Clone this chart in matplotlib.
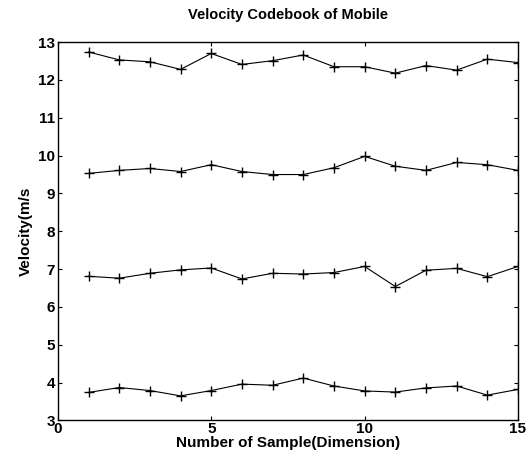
import matplotlib
matplotlib.use("Agg")
import matplotlib.pyplot as plt

# sample index (dimension)
samples = list(range(1, 16))

# four velocity codewords
v_high = [12.74, 12.53, 12.48, 12.28, 12.70, 12.41, 12.51, 12.66,
          12.35, 12.35, 12.18, 12.38, 12.26, 12.55, 12.46]
v_upper = [9.53, 9.61, 9.66, 9.58, 9.76, 9.58, 9.50, 9.50,
           9.68, 9.98, 9.72, 9.61, 9.82, 9.76, 9.61]
v_lower = [6.81, 6.76, 6.89, 6.98, 7.03, 6.74, 6.89, 6.87,
           6.91, 7.07, 6.54, 6.97, 7.02, 6.80, 7.07]
v_low = [3.74, 3.87, 3.79, 3.65, 3.79, 3.96, 3.93, 4.12,
         3.91, 3.78, 3.75, 3.86, 3.91, 3.67, 3.82]

x_ticks = [0, 5, 10, 15]
y_ticks = list(range(3, 14))

plt.rcParams['font.family'] = ['Liberation Sans', 'DejaVu Sans']

fig = plt.figure(figsize=(5.31, 4.58), dpi=100)
ax = fig.add_axes([0.109, 0.082, 0.8665, 0.826])

for series in [v_high, v_upper, v_lower, v_low]:
    ax.plot(samples, series, color='black', linewidth=0.8,
            marker='+', markersize=6.5, markeredgewidth=1.0)

ax.set_xlim(0, 15)
ax.set_ylim(3, 13)
ax.set_xticks(x_ticks)
ax.set_yticks(y_ticks)
ax.tick_params(direction='in', top=True, right=True, length=3,
               labelsize=11, pad=2)
ax.tick_params(axis='x', pad=1)
for lbl in ax.get_xticklabels() + ax.get_yticklabels():
    lbl.set_fontweight('bold')
for s in ax.spines.values():
    s.set_linewidth(1.0)

ax.set_title('Velocity Codebook of Mobile', fontsize=10.5,
             fontweight='bold', pad=17)
ax.set_xlabel('Number of Sample(Dimension)', fontsize=11,
              fontweight='bold', labelpad=0)
ax.set_ylabel('Velocity(m/s', fontsize=11, fontweight='bold', labelpad=4)

fig.savefig('out.png', dpi=100)
